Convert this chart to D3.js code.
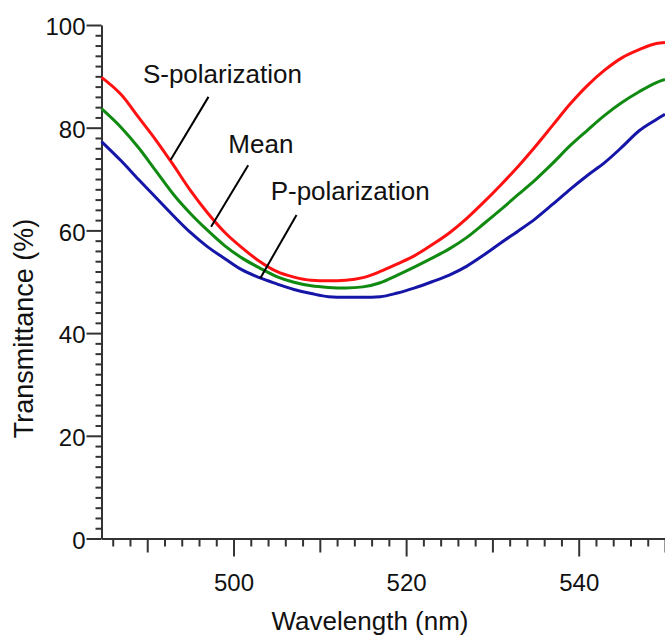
<!DOCTYPE html>
<meta charset="utf-8">
<style>
    body {margin: 0; background: #fff;}
    svg text {font-family: Arial, 'Liberation Sans', sans-serif; fill: #111;}
    .axis path, .axis line {stroke: #333; stroke-width: 2px;}
</style>
<svg width="665" height="636"></svg>
<script src="https://d3js.org/d3.v7.min.js"></script>
<script>

// wavelength grid (nm) and transmittance (%)
var wavelength = [484.7, 487, 489, 491, 493, 495, 497, 499, 501, 503, 505, 507, 509, 511, 513, 515, 517,
                  519, 521, 523, 525, 527, 529, 531, 533, 535, 537, 539, 541, 543, 545, 547, 549, 550];
var sPol = [89.8, 86.4, 82.0, 77.6, 72.8, 67.8, 63.4, 59.6, 56.6, 54.0, 52.0, 50.9, 50.3, 50.2, 50.3, 50.8, 52.0,
            53.5, 55.1, 57.2, 59.5, 62.3, 65.5, 68.9, 72.5, 76.4, 80.5, 84.6, 88.2, 91.2, 93.6, 95.2, 96.4, 96.6];
var mean = [83.7, 80.0, 76.1, 71.6, 67.1, 63.3, 60.0, 57.0, 54.6, 52.7, 51.0, 49.9, 49.2, 48.9, 48.8, 49.0, 49.8,
            51.3, 52.9, 54.6, 56.4, 58.6, 61.3, 64.1, 67.0, 69.9, 73.1, 76.5, 79.5, 82.4, 84.9, 87.0, 88.8, 89.4];
var pPol = [77.3, 73.5, 69.9, 66.4, 62.9, 59.6, 56.8, 54.5, 52.3, 50.8, 49.6, 48.5, 47.7, 47.1, 47.0, 47.0, 47.1,
            47.8, 48.8, 50.0, 51.3, 53.0, 55.2, 57.6, 59.9, 62.3, 65.1, 68.0, 70.7, 73.2, 76.2, 79.4, 81.6, 82.6];

var xMajor = [500, 520, 540];
var xMedium = [490, 510, 530, 550];
var yMajor = [0, 20, 40, 60, 80, 100];

// annotation text anchors and leader lines, in data units
var labelText = ["S-polarization", "Mean", "P-polarization"];
var labelPos = [[489.5, 88.8], [499.4, 75.1], [504.3, 65.9]];
var leaderFrom = [[497.1, 86.0], [501.7, 72.7], [507.3, 63.0]];
var leaderTo = [[492.7, 73.7], [497.4, 60.7], [503.1, 50.7]];

var svg = d3.select("svg");

var x = d3.scaleLinear().domain([484.7, 550]).range([101.5, 665]);
var y = d3.scaleLinear().domain([0, 100]).range([538.5, 25]);

var xMinor = d3.range(486, 551, 2).filter(function(d) { return xMajor.indexOf(d) < 0 && xMedium.indexOf(d) < 0; });
var yMinor = d3.range(2, 100, 2).filter(function(d) { return yMajor.indexOf(d) < 0; });

// x axis: minor, medium, major ticks
svg.append("g").attr("class", "axis").attr("transform", "translate(0,538.5)")
    .call(d3.axisBottom(x).tickValues(xMinor).tickSize(8).tickSizeOuter(0).tickFormat(""));
svg.append("g").attr("class", "axis").attr("transform", "translate(0,538.5)")
    .call(d3.axisBottom(x).tickValues(xMedium).tickSize(14).tickSizeOuter(0).tickFormat(""))
    .select(".domain").remove();
var xa = svg.append("g").attr("class", "axis").attr("transform", "translate(0,538.5)")
    .call(d3.axisBottom(x).tickValues(xMajor).tickSize(18).tickSizeOuter(0).tickPadding(17));
xa.select(".domain").remove();
xa.selectAll("text").style("font-size", "24px").attr("fill", "#111");

// y axis
svg.append("g").attr("class", "axis").attr("transform", "translate(101.5,0)")
    .call(d3.axisLeft(y).tickValues(yMinor).tickSize(6).tickSizeOuter(0).tickFormat(""));
var ya = svg.append("g").attr("class", "axis").attr("transform", "translate(101.5,0)")
    .call(d3.axisLeft(y).tickValues(yMajor).tickSize(15).tickSizeOuter(0).tickPadding(1));
ya.select(".domain").remove();
ya.selectAll("text").style("font-size", "24px").attr("fill", "#111").attr("dy", "0.4em");

// curves
var series = [
  {values: sPol, color: "#ff1111"},
  {values: mean, color: "#118a11"},
  {values: pPol, color: "#1515a8"}
];

var line = d3.line()
    .x(function(d, i) { return x(wavelength[i]); })
    .y(function(d) { return y(d); })
    .curve(d3.curveMonotoneX);

svg.append("g").selectAll("path")
    .data(series)
    .enter().append("path")
      .attr("fill", "none")
      .attr("stroke", function(d) { return d.color; })
      .attr("stroke-width", 3)
      .attr("d", function(d) { return line(d.values); });

// annotations
svg.append("g").selectAll("line")
    .data(labelText)
    .enter().append("line")
      .attr("x1", function(d, i) { return x(leaderFrom[i][0]); })
      .attr("y1", function(d, i) { return y(leaderFrom[i][1]); })
      .attr("x2", function(d, i) { return x(leaderTo[i][0]); })
      .attr("y2", function(d, i) { return y(leaderTo[i][1]); })
      .attr("stroke", "#000")
      .attr("stroke-width", 2);

svg.append("g").selectAll("text")
    .data(labelText)
    .enter().append("text")
      .attr("x", function(d, i) { return x(labelPos[i][0]); })
      .attr("y", function(d, i) { return y(labelPos[i][1]); })
      .style("font-size", "26px")
      .text(function(d) { return d; });

// axis titles
svg.append("text")
    .attr("x", 370).attr("y", 630)
    .attr("text-anchor", "middle")
    .style("font-size", "26px")
    .text("Wavelength (nm)");

svg.append("text")
    .attr("transform", "translate(33,328.5) rotate(-90)")
    .attr("text-anchor", "middle")
    .style("font-size", "27px")
    .text("Transmittance (%)");

</script>
